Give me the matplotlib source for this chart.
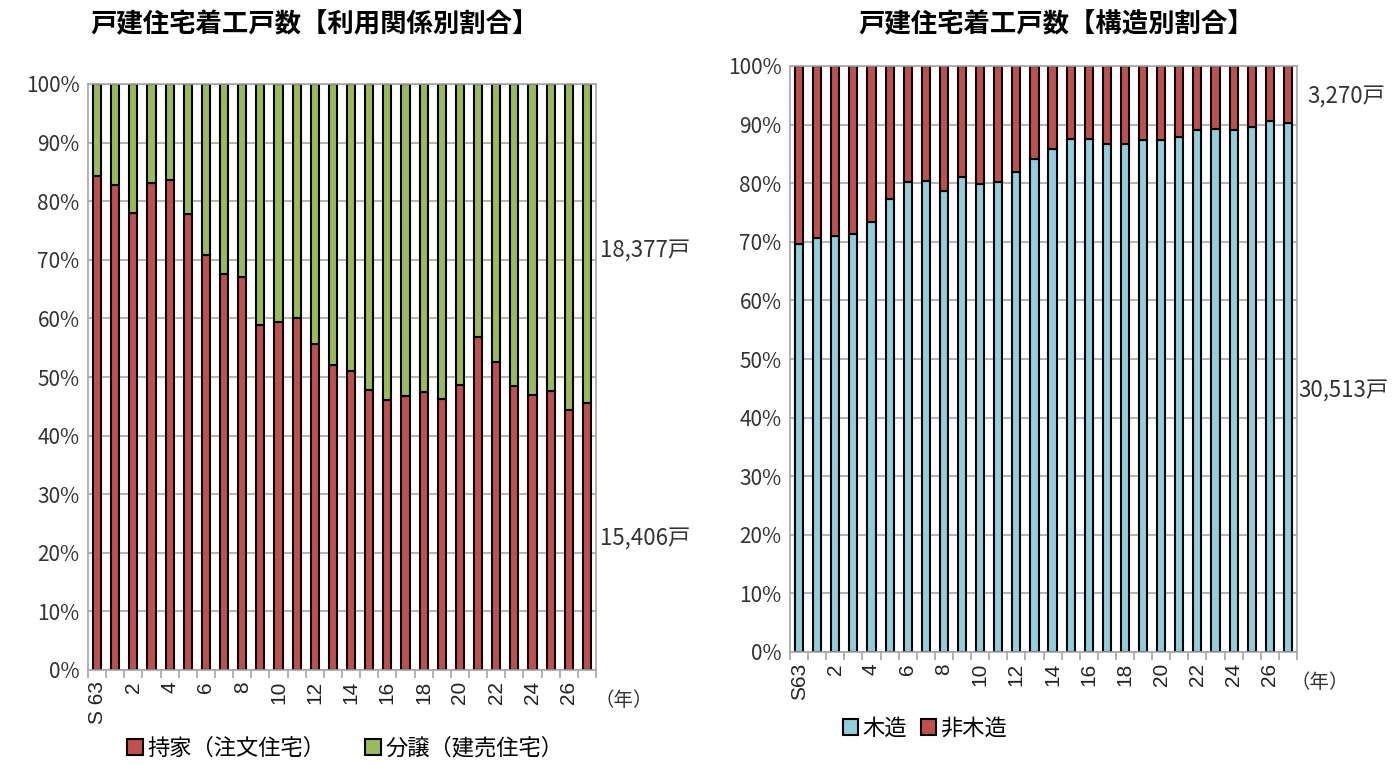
import numpy as np
import matplotlib.pyplot as plt

plt.rcParams['font.family'] = ['Noto Sans CJK JP', 'DejaVu Sans']

# years: S63, H1 .. H27
years = ['S 63'] + [str(i) for i in range(1, 28)]
years_r = ['S63'] + [str(i) for i in range(1, 28)]

# left: 持家 share (%)
mochiie = [84.3, 82.8, 78.0, 83.1, 83.6, 77.8, 70.8, 67.5, 67.1, 58.8,
           59.4, 60.1, 55.7, 52.0, 51.1, 47.8, 46.1, 46.8, 47.4, 46.3,
           48.7, 56.8, 52.5, 48.5, 47.0, 47.6, 44.4, 45.6]
bunjo = [100 - v for v in mochiie]

# right: 木造 share (%)
mokuzo = [69.7, 70.7, 71.0, 71.4, 73.4, 77.3, 80.2, 80.4, 78.6, 81.1,
          79.9, 80.2, 81.9, 84.1, 85.9, 87.6, 87.6, 86.7, 86.7, 87.4,
          87.4, 87.8, 89.0, 89.3, 89.0, 89.6, 90.6, 90.2]
hi_mokuzo = [100 - v for v in mokuzo]

red = '#C0504D'
green = '#9BBB59'
blue = '#92CDDC'

fig = plt.figure(figsize=(14, 7.64), dpi=100)
W, H = 1400, 764


def make_axes(x0, x1, ytop, ybot):
    return fig.add_axes([x0 / W, 1 - ybot / H, (x1 - x0) / W, (ybot - ytop) / H])


def style(ax, labels):
    n = len(labels)
    ax.set_xlim(-0.5, n - 0.5)
    ax.set_ylim(0, 100)
    ax.set_yticks(range(0, 101, 10))
    ax.set_yticklabels([f'{v}%' for v in range(0, 101, 10)], fontsize=15, color='#333333')
    ax.yaxis.grid(True, color='#a6a6a6', lw=1.2)
    ax.set_axisbelow(True)
    ax.tick_params(axis='y', length=0, pad=6)
    for s in ax.spines.values():
        s.set_color('#a6a6a6')
        s.set_linewidth(1.2)
    x = np.arange(n)
    ax.set_xticks(x[::2])
    ax.set_xticklabels(labels[::2], rotation=90, fontsize=15,
                       family=['Liberation Sans', 'DejaVu Sans'], color='#222222')
    ax.set_xticks(np.arange(-0.5, n, 1), minor=True)
    ax.tick_params(axis='x', which='major', length=0, pad=8)
    ax.tick_params(axis='x', which='minor', length=6, color='#a6a6a6', width=1.2)


x = np.arange(len(years))

# left chart
ax1 = make_axes(88, 596, 84, 670)
ax1.bar(x, mochiie, width=0.45, color=red, edgecolor='black', lw=1.5, label='持家（注文住宅）')
ax1.bar(x, bunjo, width=0.45, bottom=mochiie, color=green, edgecolor='black', lw=1.5, label='分譲（建売住宅）')
style(ax1, years)
fig.text(315 / W, 1 - 25 / H, '戸建住宅着工戸数【利用関係別割合】', ha='center', va='center',
         fontsize=19, fontweight='bold')
fig.text(600 / W, 1 - 250 / H, '18,377戸', ha='left', va='center', fontsize=16, color='#333333')
fig.text(600 / W, 1 - 538 / H, '15,406戸', ha='left', va='center', fontsize=16, color='#333333')
fig.text(594 / W, 1 - 700 / H, '（年）', ha='left', va='center', fontsize=14, color='#333333')
ax1.legend(loc='center', bbox_to_anchor=(345 / W, 1 - 748 / H), bbox_transform=fig.transFigure,
           ncol=2, frameon=False, fontsize=16, handlelength=0.7, handleheight=0.7,
           columnspacing=1.8, handletextpad=0.2)

# right chart
ax2 = make_axes(790, 1297, 66, 652)
ax2.bar(x, mokuzo, width=0.45, color=blue, edgecolor='black', lw=1.5, label='木造')
ax2.bar(x, hi_mokuzo, width=0.45, bottom=mokuzo, color=red, edgecolor='black', lw=1.5, label='非木造')
style(ax2, years_r)
fig.text(1056 / W, 1 - 25 / H, '戸建住宅着工戸数【構造別割合】', ha='center', va='center',
         fontsize=19, fontweight='bold')
fig.text(1307 / W, 1 - 96 / H, '3,270戸', ha='left', va='center', fontsize=16, color='#333333')
fig.text(1298 / W, 1 - 390 / H, '30,513戸', ha='left', va='center', fontsize=16, color='#333333')
fig.text(1290 / W, 1 - 682 / H, '（年）', ha='left', va='center', fontsize=14, color='#333333')
ax2.legend(loc='center', bbox_to_anchor=(925 / W, 1 - 728 / H), bbox_transform=fig.transFigure,
           ncol=2, frameon=False, fontsize=16, handlelength=0.7, handleheight=0.7,
           columnspacing=0.6, handletextpad=0.2)

fig.savefig('out.png', dpi=100)
